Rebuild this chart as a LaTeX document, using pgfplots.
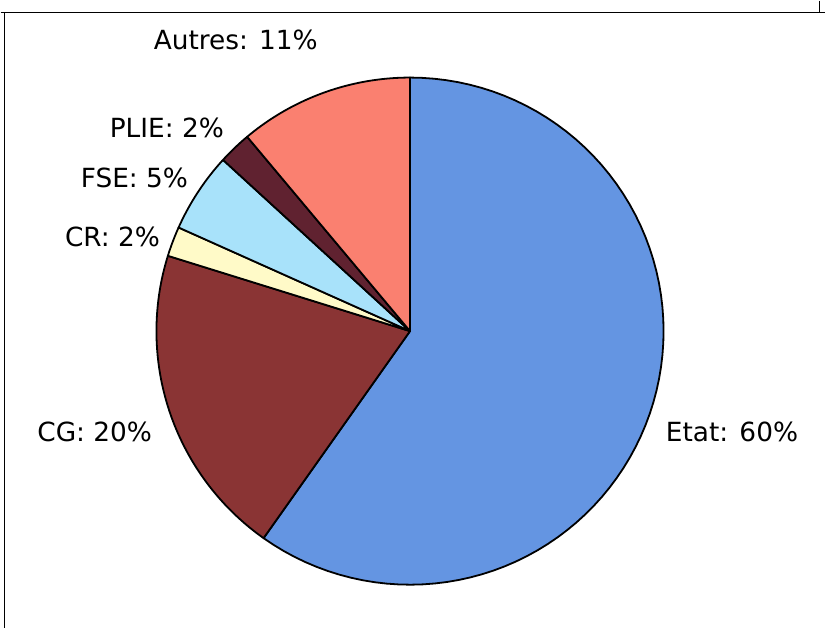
\documentclass[border=0pt]{standalone}
\usepackage{pgfplots}
\pgfplotsset{compat=1.18}
\usepackage{fontspec}
\setmainfont{DejaVu Sans}

\definecolor{cEtat}{RGB}{100,149,226}
\definecolor{cCG}{RGB}{138,52,52}
\definecolor{cCR}{RGB}{255,250,200}
\definecolor{cFSE}{RGB}{168,226,250}
\definecolor{cPLIE}{RGB}{96,34,48}
\definecolor{cAutres}{RGB}{250,128,112}

% one slice: #1 = cumulative share before it (%), #2 = its share (%), #3 = colour
\newcommand{\pieslice}[3]{%
  \addplot[fill=#3, draw=black, line width=0.9pt, line join=round,
    variable=\t, samples=80,
    domain={90-3.6*(#1)}:{90-3.6*(#1+#2)}]
    ({410+254*cos(\t)},{297+254*sin(\t)}) -- (axis cs:410,297) -- cycle;
}
\tikzset{lbl/.style={font=\fontsize{13.2}{16}\selectfont, inner sep=0pt, text=black}}

\begin{document}
\begin{tikzpicture}
\begin{axis}[
  scale only axis, width=413pt, height=314pt,
  xmin=0, xmax=826, ymin=0, ymax=628,
  hide axis, clip=false
]
% frame of the scanned page
\draw[black, line width=0.7pt] (axis cs:0,616) -- (axis cs:826,616);
\draw[black, line width=0.7pt] (axis cs:4,616) -- (axis cs:4,0);
\draw[black, line width=0.7pt] (axis cs:820,628) -- (axis cs:820,616);

% shares (%): Etat 59.8, CG 20.0, CR 1.9, FSE 5.1, PLIE 2.1, Autres 11.1
\pieslice{0}{59.8}{cEtat}
\pieslice{59.8}{20.0}{cCG}
\pieslice{79.8}{1.9}{cCR}
\pieslice{81.7}{5.1}{cFSE}
\pieslice{86.8}{2.1}{cPLIE}
\pieslice{88.9}{11.1}{cAutres}

\node[lbl, anchor=east] at (axis cs:318,589) {Autres: 11\%};
\node[lbl, anchor=east] at (axis cs:224,501) {PLIE: 2\%};
\node[lbl, anchor=east] at (axis cs:188,450) {FSE: 5\%};
\node[lbl, anchor=east] at (axis cs:160,391) {CR: 2\%};
\node[lbl, anchor=east] at (axis cs:152,196) {CG: 20\%};
\node[lbl, anchor=west] at (axis cs:666,196) {Etat: 60\%};
\end{axis}
\end{tikzpicture}
\end{document}
